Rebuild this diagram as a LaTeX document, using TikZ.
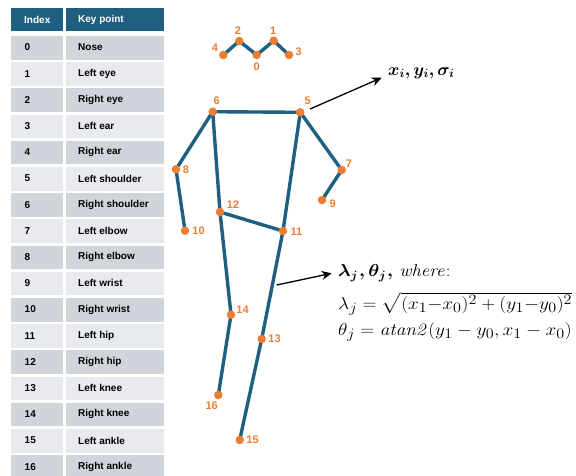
\documentclass[tikz,border=0pt]{standalone}
\usepackage[no-math]{fontspec}
\usepackage{amsmath,bm,graphicx}
\newfontfamily\tabfont{Liberation Sans}
\usetikzlibrary{arrows.meta}
\definecolor{skteal}{HTML}{1F5F7F}
\definecolor{skorange}{HTML}{ED7D31}
\definecolor{rowdark}{HTML}{D0D5DC}
\definecolor{rowlight}{HTML}{E8EAEE}
\begin{document}
\begin{tikzpicture}[x=1pt,y=-1pt,
  tabtxt/.style={inner sep=0pt,font=\tabfont\bfseries\fontsize{10}{12}\selectfont,text=black},
  headtxt/.style={inner sep=0pt,font=\tabfont\bfseries\fontsize{10}{12}\selectfont,text=white},
  bone/.style={draw=skteal,line width=3.4pt,line cap=round,line join=round},
  kp/.style={circle,fill=skorange,inner sep=0pt,minimum size=8.5pt},
  lab/.style={inner sep=0pt,text=skorange,font=\tabfont\bfseries\fontsize{11}{13}\selectfont},
  arr/.style={draw=black,line width=1.3pt,-{Stealth[length=10pt,width=9pt]}},
  mtxt/.style={inner sep=0pt,anchor=west,font=\fontsize{19}{22}\selectfont}]
\useasboundingbox (0,0) rectangle (576,475);
% table header
\fill[skteal] (11,8) rectangle (63.3,30.7);
\fill[skteal] (65.7,8) rectangle (164.3,30.7);
\node[headtxt,anchor=west] (hidx) at (24,19.5) {Index};
\node[headtxt,anchor=west] (hkey) at (78,19.5) {Key point};
\foreach \i/\nm in {0/Nose,1/Left eye,2/Right eye,3/Left ear,4/Right ear,5/Left shoulder,6/Right shoulder,7/Left elbow,8/Right elbow,9/Left wrist,10/Right wrist,11/Left hip,12/Right hip,13/Left knee,14/Right knee,15/Left ankle,16/Right ankle}{
  \pgfmathsetmacro\yt{36+26.2*\i}
  \pgfmathtruncatemacro\od{mod(\i,2)}
  \ifnum\od=0 \def\rc{rowdark}\else\def\rc{rowlight}\fi
  \fill[\rc] (11,\yt) rectangle (63.3,\yt+23.5);
  \fill[\rc] (65.7,\yt) rectangle (164.3,\yt+23.5);
  \node[tabtxt,anchor=west] (idx\i) at (24.5,\yt+11.5) {\i};
  \node[tabtxt,anchor=west] (key\i) at (78,\yt+11.5) {\nm};
}
% keypoints
\coordinate (c0) at (256.7,55);
\coordinate (c1) at (273.7,40.7);
\coordinate (c2) at (239.3,41);
\coordinate (c3) at (289,55);
\coordinate (c4) at (223.3,55);
\coordinate (c5) at (300.3,112.3);
\coordinate (c6) at (212.7,111.7);
\coordinate (c7) at (341.7,170);
\coordinate (c8) at (176,169.3);
\coordinate (c9) at (322,200);
\coordinate (c10) at (185,230.7);
\coordinate (c11) at (283,231);
\coordinate (c12) at (220,212);
\coordinate (c13) at (261.7,339);
\coordinate (c14) at (231,314.7);
\coordinate (c15) at (239.7,440);
\coordinate (c16) at (218.3,395);
% bones
\draw[bone] (c4) -- (c2) -- (c0) -- (c1) -- (c3);
\draw[bone] (c10) -- (c8) -- (c6) -- (c5) -- (c7) -- (c9);
\draw[bone] (c6) -- (c12) -- (c14) -- (c16);
\draw[bone] (c5) -- (c11) -- (c13) -- (c15);
\draw[bone] (c12) -- (c11);
% dots
\foreach \k in {0,...,16}{\node[kp] (p\k) at (c\k) {};}
% labels
\node[lab] (l0) at (256.7,66.5) {0};
\node[lab] (l1) at (273.3,30.7) {1};
\node[lab] (l2) at (238,31) {2};
\node[lab] (l3) at (298.8,51.7) {3};
\node[lab] (l4) at (215,47.7) {4};
\node[lab] (l5) at (307.7,100.7) {5};
\node[lab] (l6) at (216.7,100.7) {6};
\node[lab] (l7) at (349,163.3) {7};
\node[lab] (l8) at (186,169.3) {8};
\node[lab] (l9) at (332.7,204) {9};
\node[lab] (l10) at (198.5,230.7) {10};
\node[lab] (l11) at (296.5,231.7) {11};
\node[lab] (l12) at (233,205) {12};
\node[lab] (l13) at (274.5,339) {13};
\node[lab] (l14) at (242.5,310) {14};
\node[lab] (l15) at (252.5,439.3) {15};
\node[lab] (l16) at (211.7,406) {16};
% annotations
\node[mtxt,font=\fontsize{17}{20}\selectfont] (t1) at (388,73) {$\bm{x_i, y_i, \sigma_i}$};
\node[mtxt,font=\fontsize{18}{21}\selectfont] (t2) at (338,273) {\scalebox{1.08}[1]{$\bm{\lambda_j}\mkern1mu\bm{,}\bm{\theta_j}\mkern1mu\bm{,}\,\mathit{where}{:}$}};
\node[mtxt] (t3) at (338,304) {\scalebox{1.12}[1]{$\lambda_j = \sqrt{(x_1{-}x_0)^2 + (y_1{-}y_0)^2}$}};
\node[mtxt] (t4) at (338,332) {\scalebox{1.12}[1]{$\theta_j = \mathit{atan2}(y_1 - y_0, x_1 - x_0)$}};
\coordinate (a1s) at (310,109);
\coordinate (a1e) at (381.7,77.7);
\coordinate (a2s) at (276.7,285);
\coordinate (a2e) at (331.7,273.3);
\draw[arr] (a1s) -- (a1e);
\draw[arr] (a2s) -- (a2e);
\end{tikzpicture}
\end{document}
